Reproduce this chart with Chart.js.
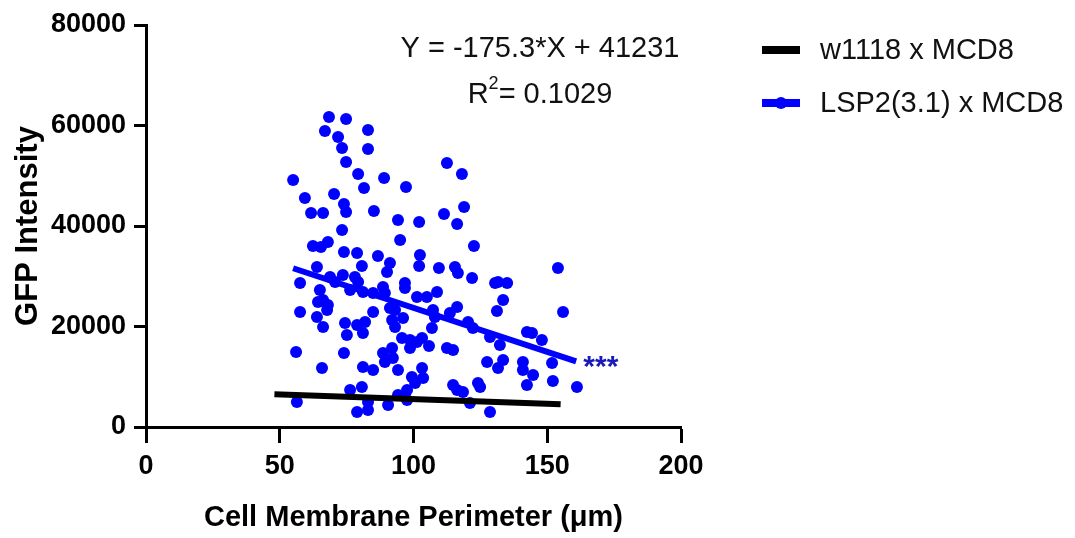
<!DOCTYPE html>
<html>
<head>
<meta charset="utf-8">
<script src="https://cdn.jsdelivr.net/npm/chart.js@4.4.1/dist/chart.umd.min.js"></script>
<style>
  html, body { margin: 0; padding: 0; background: #fff; }
  #wrap { width: 1075px; height: 538px; }
</style>
</head>
<body>
<div id="wrap"><canvas id="c" width="1075" height="538"></canvas></div>
<script>
// ---- data ----
const xTicks = [0, 50, 100, 150, 200];
const yTicks = [0, 20000, 40000, 60000, 80000];

const seriesNames = ['w1118 x MCD8', 'LSP2(3.1) x MCD8'];

// LSP2(3.1) x MCD8 scatter: perimeter (µm) and GFP intensity
const lspX = [68.4,74.8,66.9,83.0,71.8,73.3,83.0,74.8,79.3,55.0,89.0,81.5,97.2,112.5,118.1,59.4,70.3,74.0,74.8,61.7,
  66.2,85.2,118.9,111.4,94.2,102.1,116.3,73.3,95.0,62.4,65.4,68.0,74.0,78.9,86.7,102.4,122.6,63.9,80.7,91.2,
  102.1,109.5,115.5,90.1,116.6,57.6,68.8,73.6,78.1,79.3,65.0,66.2,64.3,68.0,67.7,63.9,66.2,57.6,56.1,65.8,
  56.4,70.7,76.3,81.1,84.9,88.6,89.3,96.8,96.8,101.3,105.0,108.8,91.2,93.1,84.9,96.1,92.0,93.1,107.3,108.0,
  106.9,113.6,116.3,74.4,75.1,78.9,81.9,81.1,95.7,98.7,103.2,101.3,98.7,105.8,112.5,114.8,74.0,88.6,92.0,89.3,
  92.3,81.1,84.9,94.2,103.2,99.4,103.6,100.6,76.3,80.7,97.6,94.2,114.8,116.3,118.5,83.0,78.9,83.0,90.5,97.6,
  154.0,155.9,161.1,121.9,130.5,131.6,135.0,133.5,131.2,120.4,122.2,128.6,132.3,142.4,144.3,148.0,127.5,131.6,133.5,140.9,
  140.9,144.7,151.8,152.1,142.4,124.1,124.9,121.1,128.6];
const lspY = [61700,61300,58900,59100,57710,55520,55320,52740,50350,49150,49550,47560,47760,52540,50350,45570,46370,44380,42790,42590,
  42590,42980,43780,42390,41190,40800,40400,39200,37210,36020,35820,36820,34830,34630,34030,34230,36020,31840,32040,32640,
  32040,31640,31840,30850,30650,28660,29850,30250,29850,28860,27260,25270,24880,24280,23280,21890,19900,22890,14930,11740,
  4980,28860,27260,26870,26670,27860,26670,28660,27660,25870,25870,26870,23680,23280,22890,21690,21290,19900,23280,21890,
  19700,22690,23880,20700,18310,20300,20900,18710,17710,17310,17710,16920,15720,16120,15720,15320,14730,14730,15720,12940,
  13730,11940,11340,11340,11740,9950,9750,8760,7360,7960,7360,6370,8360,7360,6970,4980,2990,3380,4380,5370,
  31640,22890,7960,29650,28660,28860,28660,25270,23080,20900,19700,17910,16320,18910,18710,17310,12940,11740,13330,12940,
  11340,10350,12740,9150,8360,8760,7960,4780,2990];

// fitted lines (end points)
const w1118FitX = [48, 155];
const w1118FitY = [6500, 4550];
const lspFitX = [55, 160.8];
const lspFitY = [31590, 13040];

const equationLines = ['Y = -175.3*X + 41231', 'R', '2', '= 0.1029'];
const significance = '***';
const significanceAt = [163.5, 12900];

// ---- build chart ----
const toPts = (xs, ys) => xs.map((x, i) => ({ x: x, y: ys[i] }));
const BLUE = '#0000ff';
const FONT = "'Liberation Sans', Arial, sans-serif";

const overlay = {
  id: 'overlay',
  afterDraw(chart) {
    const ctx = chart.ctx;
    const xs = chart.scales.x, ys = chart.scales.y;
    ctx.save();
    // regression equation
    ctx.fillStyle = '#111';
    ctx.font = '29px ' + FONT;
    ctx.textAlign = 'center';
    ctx.textBaseline = 'middle';
    ctx.fillText(equationLines[0], 540, 49);
    // R^2 line
    const w1 = ctx.measureText(equationLines[1]).width;
    ctx.font = '18px ' + FONT;
    const w2 = ctx.measureText(equationLines[2]).width;
    ctx.font = '29px ' + FONT;
    const w3 = ctx.measureText(equationLines[3]).width;
    let sx = 540 - (w1 + w2 + w3) / 2;
    ctx.textAlign = 'left';
    ctx.fillText(equationLines[1], sx, 95);
    ctx.font = '18px ' + FONT;
    ctx.fillText(equationLines[2], sx + w1, 84);
    ctx.font = '29px ' + FONT;
    ctx.fillText(equationLines[3], sx + w1 + w2, 95);

    // significance stars
    ctx.fillStyle = '#1a1ab8';
    ctx.font = 'bold 30px ' + FONT;
    ctx.textAlign = 'left';
    ctx.fillText(significance, xs.getPixelForValue(significanceAt[0]), ys.getPixelForValue(significanceAt[1]) + 6);

    // legend
    const lx = 762, lw = 38;
    const rows = [{ y: 50, color: '#000', dot: false }, { y: 103, color: BLUE, dot: true }];
    rows.forEach((r, i) => {
      ctx.strokeStyle = r.color;
      ctx.lineWidth = 8;
      ctx.beginPath();
      ctx.moveTo(lx, r.y);
      ctx.lineTo(lx + lw, r.y);
      ctx.stroke();
      if (r.dot) {
        ctx.fillStyle = r.color;
        ctx.beginPath();
        ctx.arc(lx + lw / 2, r.y, 6, 0, Math.PI * 2);
        ctx.fill();
      }
      ctx.fillStyle = '#111';
      ctx.font = '29px ' + FONT;
      ctx.textAlign = 'left';
      ctx.textBaseline = 'middle';
      ctx.fillText(seriesNames[i], 820, r.y + 1);
    });
    ctx.restore();
  }
};

new Chart(document.getElementById('c'), {
  type: 'scatter',
  data: {
    datasets: [
      {
        label: seriesNames[0] + ' fit',
        type: 'line',
        data: toPts(w1118FitX, w1118FitY),
        borderColor: '#000',
        borderWidth: 6,
        pointRadius: 0,
        fill: false,
        order: 0
      },
      {
        label: seriesNames[1] + ' fit',
        type: 'line',
        data: toPts(lspFitX, lspFitY),
        borderColor: BLUE,
        borderWidth: 6,
        pointRadius: 0,
        fill: false,
        order: 0
      },
      {
        label: seriesNames[1],
        data: toPts(lspX, lspY),
        backgroundColor: BLUE,
        borderWidth: 0,
        pointRadius: 6,
        order: 1
      }
    ]
  },
  options: {
    responsive: false,
    animation: false,
    devicePixelRatio: 1,
    layout: { padding: { left: 0, top: 25, right: 394, bottom: 0 } },
    plugins: { legend: { display: false }, tooltip: { enabled: false } },
    scales: {
      x: {
        type: 'linear',
        min: 0, max: 200,
        afterBuildTicks: s => { s.ticks = xTicks.map(v => ({ value: v })); },
        afterFit: s => { s.height = 111; },
        ticks: { color: '#000', font: { family: FONT, size: 27, weight: 'bold' }, padding: 7, maxRotation: 0 },
        grid: { drawOnChartArea: false, drawTicks: true, tickLength: 16, tickWidth: 3, tickColor: '#000' },
        border: { display: true, width: 3, color: '#000' },
        title: { display: true, text: 'Cell Membrane Perimeter (μm)', color: '#000',
                 font: { family: FONT, size: 29, weight: 'bold' }, padding: { top: 0, bottom: 3 } }
      },
      y: {
        type: 'linear',
        min: 0, max: 80000,
        afterBuildTicks: s => { s.ticks = yTicks.map(v => ({ value: v })); },
        afterFit: s => { s.width = 146; },
        ticks: { color: '#000', font: { family: FONT, size: 27, weight: 'bold' }, padding: 8,
                 callback: v => String(v) },
        grid: { drawOnChartArea: false, drawTicks: true, tickLength: 12, tickWidth: 3, tickColor: '#000' },
        border: { display: true, width: 3, color: '#000' },
        title: { display: true, text: 'GFP Intensity', color: '#000',
                 font: { family: FONT, size: 31, weight: 'bold' }, padding: { top: 10, bottom: 0 } }
      }
    }
  },
  plugins: [overlay]
});
</script>
</body>
</html>
